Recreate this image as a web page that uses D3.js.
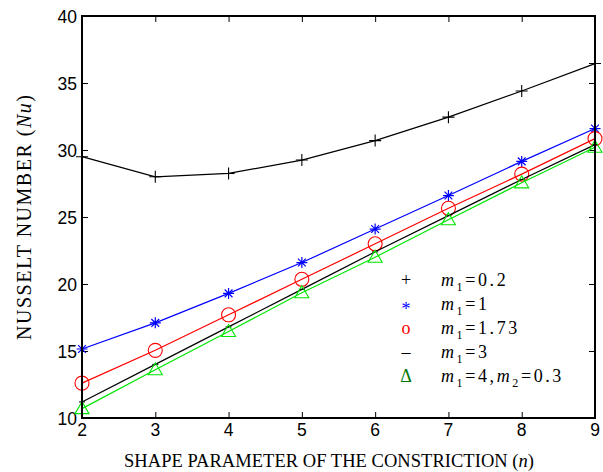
<!DOCTYPE html>
<html>
<head>
<meta charset="utf-8">
<script src="https://cdn.jsdelivr.net/npm/d3@7"></script>
<style>
  body { margin: 0; background: #fff; }
  svg text { fill: #000; }
</style>
</head>
<body>
<svg width="603" height="472"></svg>
<script>
// shape parameter n
var nValues = [2, 3, 4, 5, 6, 7, 8, 9];

// Nusselt numbers
var nuM02 = [29.5, 28.0, 28.25, 29.25, 30.7, 32.45, 34.4, 36.45];
var nuM1 = [15.15, 17.1, 19.3, 21.6, 24.1, 26.6, 29.15, 31.6];
var nuM173 = [12.6, 15.05, 17.7, 20.35, 23.0, 25.65, 28.2, 30.85];
var nuM3 = [11.2, 14.0, 16.8, 19.6, 22.4, 25.1, 27.8, 30.4];
var nuM4 = [10.7, 13.6, 16.45, 19.35, 22.0, 24.8, 27.55, 30.2];

var xTicks = [2, 3, 4, 5, 6, 7, 8, 9];
var yTicks = [10, 15, 20, 25, 30, 35, 40];

var series = [
  { values: nuM02, color: "#000", marker: "plus", legendColor: "#000", glyph: "+", m1: "0.2" },
  { values: nuM1, color: "#0000ff", marker: "star", legendColor: "#0000ff", glyph: "*", m1: "1" },
  { values: nuM173, color: "#ff0000", marker: "circle", legendColor: "#ff0000", glyph: "o", m1: "1.73" },
  { values: nuM3, color: "#000", marker: "dash", legendColor: "#000", glyph: "\u2013", m1: "3" },
  { values: nuM4, color: "#00e600", marker: "triangle", legendColor: "#007700", glyph: "\u0394", m1: "4", m2: "0.3" }
];

// plot box edges (window.top is reserved, so use other names)
var boxL = 82, boxR = 595, boxT = 16, boxB = 418;
var svg = d3.select("svg");

var x = d3.scaleLinear().domain([2, 9]).range([boxL, boxR]);
var y = d3.scaleLinear().domain([10, 40]).range([boxB, boxT]);

// ticks inside the box on all four sides
svg.append("g").attr("transform", "translate(0," + boxB + ")")
  .call(d3.axisBottom(x).tickValues(xTicks).tickSize(-6).tickFormat(""))
  .call(function(g) { g.select(".domain").remove(); });
svg.append("g").attr("transform", "translate(0," + boxT + ")")
  .call(d3.axisTop(x).tickValues(xTicks).tickSize(-6).tickFormat(""))
  .call(function(g) { g.select(".domain").remove(); });
svg.append("g").attr("transform", "translate(" + boxL + ",0)")
  .call(d3.axisLeft(y).tickValues(yTicks).tickSize(-6).tickFormat(""))
  .call(function(g) { g.select(".domain").remove(); });
svg.append("g").attr("transform", "translate(" + boxR + ",0)")
  .call(d3.axisRight(y).tickValues(yTicks).tickSize(-6).tickFormat(""))
  .call(function(g) { g.select(".domain").remove(); });
svg.selectAll(".tick line").attr("stroke", "#000").attr("stroke-width", 1);

// tick labels
svg.selectAll(".xlab").data(xTicks).enter().append("text")
  .attr("x", function(d) { return x(d); })
  .attr("y", 436)
  .attr("text-anchor", "middle")
  .style("font", "17.5px 'Liberation Sans', Arial, sans-serif")
  .text(function(d) { return d; });
svg.selectAll(".ylab").data(yTicks).enter().append("text")
  .attr("x", 77)
  .attr("y", function(d) { return y(d) + 6.5; })
  .attr("text-anchor", "end")
  .style("font", "17.5px 'Liberation Sans', Arial, sans-serif")
  .text(function(d) { return d; });

// lines
var line = d3.line()
  .x(function(d, i) { return x(nValues[i]); })
  .y(function(d) { return y(d); });

series.forEach(function(s) {
  svg.append("path")
    .attr("d", line(s.values))
    .attr("fill", "none")
    .attr("stroke", s.color)
    .attr("stroke-width", 1.2);

  var g = svg.append("g");
  s.values.forEach(function(v, i) {
    var cx = x(nValues[i]), cy = y(v);
    if (s.marker === "plus") {
      g.append("path").attr("d", "M" + (cx - 6) + "," + cy + "H" + (cx + 6) + "M" + cx + "," + (cy - 6) + "V" + (cy + 6))
        .attr("stroke", s.color).attr("stroke-width", 1.1);
    } else if (s.marker === "star") {
      var r = 5.5, d = "";
      [0, 45, 90, 135].forEach(function(a) {
        var t = a * Math.PI / 180;
        d += "M" + (cx - r * Math.cos(t)) + "," + (cy - r * Math.sin(t)) + "L" + (cx + r * Math.cos(t)) + "," + (cy + r * Math.sin(t));
      });
      g.append("path").attr("d", d).attr("stroke", s.color).attr("stroke-width", 1.2);
    } else if (s.marker === "circle") {
      g.append("circle").attr("cx", cx).attr("cy", cy).attr("r", 7)
        .attr("fill", "none").attr("stroke", s.color).attr("stroke-width", 1.1);
    } else if (s.marker === "dash") {
      g.append("path").attr("d", "M" + (cx - 3) + "," + cy + "H" + (cx + 3))
        .attr("stroke", s.color).attr("stroke-width", 1);
    } else if (s.marker === "triangle") {
      g.append("path").attr("d", "M" + cx + "," + (cy - 7) + "L" + (cx + 7) + "," + (cy + 5) + "L" + (cx - 7) + "," + (cy + 5) + "Z")
        .attr("fill", "none").attr("stroke", s.color).attr("stroke-width", 1.1);
    }
  });
});

// box
svg.append("rect")
  .attr("x", boxL).attr("y", boxT)
  .attr("width", boxR - boxL).attr("height", boxB - boxT)
  .attr("fill", "none").attr("stroke", "#000").attr("stroke-width", 2);

// legend
var legend = svg.append("g");
series.forEach(function(s, i) {
  var ly = 285.5 + i * 24.2;
  legend.append("text")
    .attr("x", 406).attr("y", s.glyph === "*" ? ly + 5 : ly)
    .attr("text-anchor", "middle")
    .style("font", "18px 'Liberation Serif', 'Times New Roman', serif")
    .style("fill", s.legendColor)
    .text(s.glyph);
  var t = legend.append("text")
    .attr("x", 441).attr("y", ly)
    .style("font", "18px 'Liberation Serif', 'Times New Roman', serif")
    .style("letter-spacing", "2.6px");
  t.append("tspan").style("font-style", "italic").text("m");
  t.append("tspan").attr("dy", 5).style("font-size", "12px").text("1");
  t.append("tspan").attr("dy", -5).text("=" + s.m1 + (s.m2 ? "," : ""));
  if (s.m2) {
    t.append("tspan").style("font-style", "italic").text("m");
    t.append("tspan").attr("dy", 5).style("font-size", "12px").text("2");
    t.append("tspan").attr("dy", -5).text("=" + s.m2);
  }
});

// axis titles
var xt = svg.append("text")
  .attr("x", 124).attr("y", 467)
  .attr("textLength", 410).attr("lengthAdjust", "spacing")
  .style("font", "18.5px 'Liberation Serif', 'Times New Roman', serif");
xt.append("tspan").text("SHAPE PARAMETER OF THE CONSTRICTION (");
xt.append("tspan").style("font-style", "italic").text("n");
xt.append("tspan").text(")");

var yt = svg.append("text")
  .attr("transform", "translate(31,340) rotate(-90)")
  .attr("textLength", 245).attr("lengthAdjust", "spacing")
  .style("font", "20px 'Liberation Serif', 'Times New Roman', serif");
yt.append("tspan").text("NUSSELT NUMBER (");
yt.append("tspan").style("font-style", "italic").text("Nu");
yt.append("tspan").text(")");
</script>
</body>
</html>
